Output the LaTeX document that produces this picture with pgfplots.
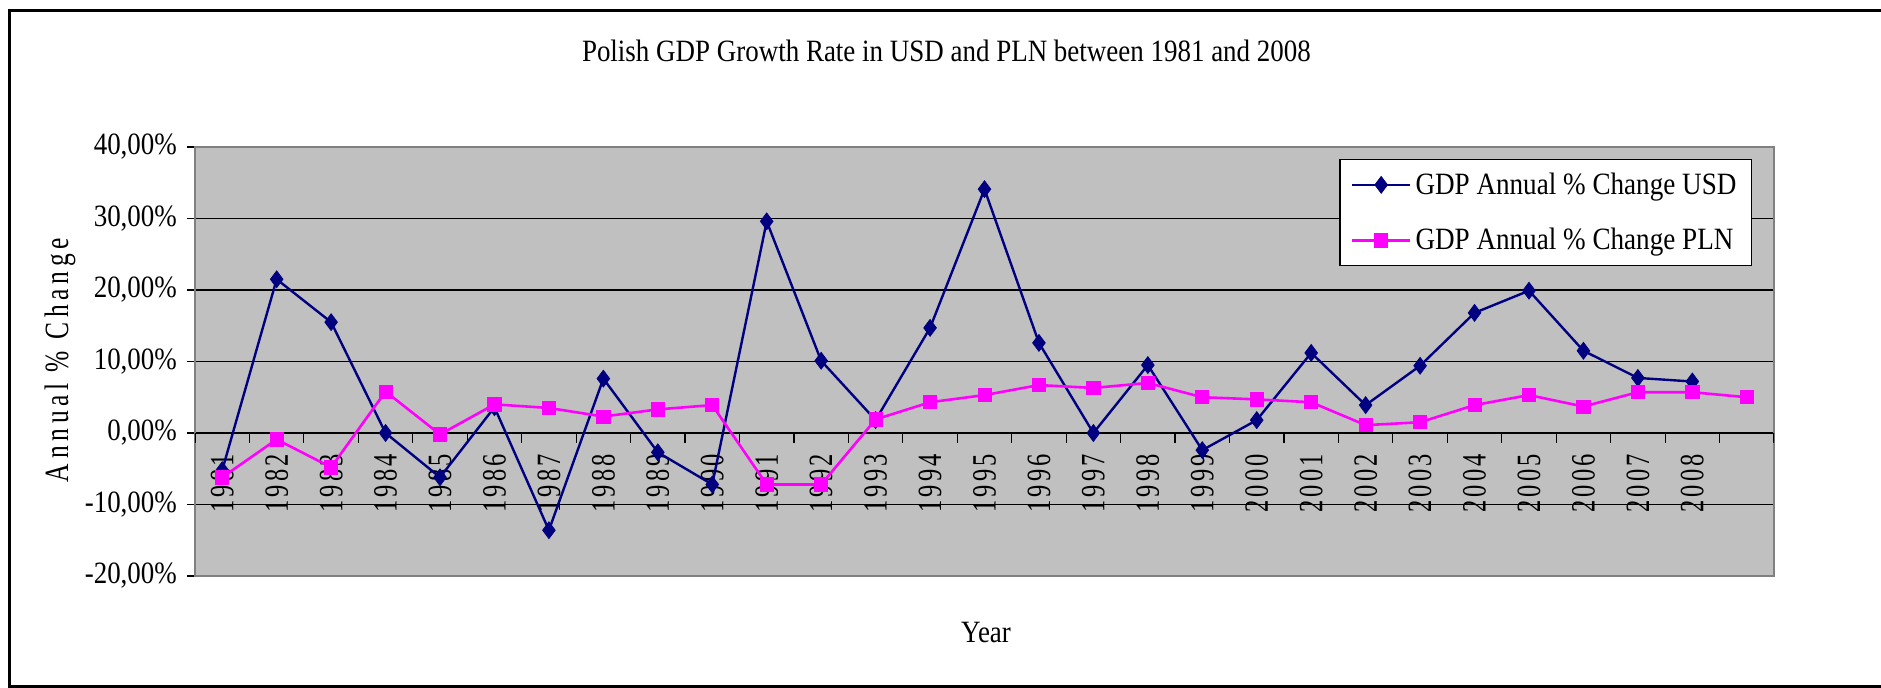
\documentclass[border=0pt]{standalone}
\usepackage{pgfplots}
\pgfplotsset{compat=1.18}
\usepackage{fontspec}
\setmainfont{Liberation Serif}
\newfontfamily\cond[FakeStretch=0.87]{Liberation Serif}
\newfontfamily\legfont[FakeStretch=0.875]{Liberation Serif}
\newfontfamily\spaced[FakeStretch=0.72,LetterSpace=9]{Liberation Serif}
\newfontfamily\yspaced[FakeStretch=0.75,LetterSpace=14]{Liberation Serif}
\newcommand\fs{\fontsize{15.5}{18}\selectfont}
\newcommand\fsr{\fontsize{17}{20}\selectfont}
\definecolor{usd}{RGB}{0,0,128}
\definecolor{pln}{RGB}{255,0,255}
\definecolor{plotbg}{RGB}{192,192,192}
\definecolor{border}{RGB}{128,128,128}

\pgfplotstableread{
x usd
0 -5.2
1 21.5
2 15.5
3 0.0
4 -6.2
5 3.6
6 -13.6
7 7.6
8 -2.7
9 -7.2
10 29.6
11 10.1
12 1.8
13 14.7
14 34.1
15 12.6
16 0.0
17 9.5
18 -2.4
19 1.8
20 11.2
21 3.9
22 9.4
23 16.8
24 19.9
25 11.5
26 7.7
27 7.2
}\usdtable

\pgfplotstableread{
x pln
0 -6.2
1 -0.9
2 -4.8
3 5.8
4 -0.2
5 4.0
6 3.5
7 2.3
8 3.3
9 3.9
10 -7.2
11 -7.2
12 1.9
13 4.3
14 5.3
15 6.7
16 6.3
17 7.0
18 5.0
19 4.7
20 4.3
21 1.1
22 1.5
23 3.9
24 5.3
25 3.7
26 5.7
27 5.7
28 5.0
}\plntable

\pgfplotstableread{
x t
-0.5 -1.4
0.5 -1.4
1.5 -1.4
2.5 -1.4
3.5 -1.4
4.5 -1.4
5.5 -1.4
6.5 -1.4
7.5 -1.4
8.5 -1.4
9.5 -1.4
10.5 -1.4
11.5 -1.4
12.5 -1.4
13.5 -1.4
14.5 -1.4
15.5 -1.4
16.5 -1.4
17.5 -1.4
18.5 -1.4
19.5 -1.4
20.5 -1.4
21.5 -1.4
22.5 -1.4
23.5 -1.4
24.5 -1.4
25.5 -1.4
26.5 -1.4
27.5 -1.4
28.5 -1.4
}\ticktable

\begin{document}
\begin{tikzpicture}
\path[use as bounding box] (-97.5pt,-56pt) rectangle (843pt,288pt);
\draw[black, line width=1.5pt] (850pt,282.85pt) -- (-92.5pt,282.85pt) -- (-92.5pt,-55.5pt) -- (850pt,-55.5pt);
\begin{axis}[
  at={(0pt,0pt)}, anchor=south west,
  scale only axis,
  width=789.5pt, height=214.5pt,
  xmin=-0.5, xmax=28.5,
  ymin=-20, ymax=40,
  axis background/.style={fill=plotbg},
  axis line style={border, line width=1.1pt},
  ytick={-20,-10,0,10,20,30,40},
  yticklabels={{-20,00\%},{-10,00\%},{0,00\%},{10,00\%},{20,00\%},{30,00\%},{40,00\%}},
  ymajorgrids,
  grid style={black, line width=0.6pt},
  ytick align=outside,
  major tick length=4pt,
  ytick pos=left,
  y tick style={black, line width=0.6pt},
  yticklabel style={font=\cond\fs, xshift=-1.5pt},
  xtick={0,...,27},
  xticklabels={1981,1982,1983,1984,1985,1986,1987,1988,1989,1990,1991,1992,1993,1994,1995,1996,1997,1998,1999,2000,2001,2002,2003,2004,2005,2006,2007,2008},
  x tick style={draw=none},
  xtick pos=bottom,
  xticklabel style={font=\spaced\fsr, yshift=46.25pt, rotate=90, anchor=center, inner sep=0pt},
  every axis title/.style={at={(axis description cs:0.4759,1.1988)}, anchor=base, font=\cond\fs},
  title={Polish GDP Growth Rate in USD and PLN between 1981 and 2008},
  every axis x label/.style={at={(axis description cs:0.501,-0.156)}, anchor=base, font=\cond\fs},
  xlabel={Year},
  every axis y label/.style={at={(axis description cs:-0.0855,0.5035)}, rotate=90, anchor=center, font=\yspaced\fsr},
  ylabel={Annual \% Change},
  legend style={at={(axis description cs:0.9861,0.972)}, anchor=north east, draw=black, line width=0.6pt, fill=white, font=\legfont\fs, row sep=11.5pt, inner xsep=5.5pt, inner ysep=4.5pt},
  legend cell align=left,
  legend image code/.code={\draw[mark repeat=2,mark phase=2] plot coordinates {(0pt,0pt) (14.5pt,0pt) (29pt,0pt)};},
]
\addplot[ycomb, black, line width=0.6pt, no marks, forget plot] table[x=x, y=t] {\ticktable};
\addplot[usd, line width=1.2pt, mark=diamond*, mark size=4.2pt, mark options={solid, fill=usd, line width=0.4pt}] table[x=x, y=usd] {\usdtable};
\addlegendentry{GDP Annual \% Change USD}
\addplot[pln, line width=1.3pt, mark=square*, mark size=3.3pt, mark options={solid, fill=pln, line width=0.4pt}] table[x=x, y=pln] {\plntable};
\addlegendentry{GDP Annual \% Change PLN}
\end{axis}
\end{tikzpicture}
\end{document}
